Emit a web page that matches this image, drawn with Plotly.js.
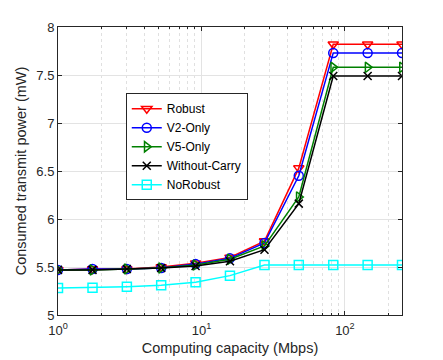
<!DOCTYPE html>
<html>
<head>
<meta charset="utf-8">
<script src="https://cdn.plot.ly/plotly-3.0.1.min.js"></script>
<style>
  html, body { margin: 0; padding: 0; background: #fff; }
  #chart { width: 443px; height: 360px; }
</style>
</head>
<body>
<div id="chart"></div>
<script>
// computing capacity (Mbps)
var capacity = [1, 1.74, 3.02, 5.24, 9.1, 15.8, 27.5, 47.7, 82.9, 144, 250];

// consumed transmit power (mW) per scheme
var robust        = [5.47, 5.48, 5.48, 5.50, 5.54, 5.60, 5.77, 6.53, 7.82, 7.82, 7.82];
var v2_only       = [5.47, 5.48, 5.48, 5.49, 5.53, 5.59, 5.75, 6.45, 7.73, 7.73, 7.73];
var v5_only       = [5.47, 5.47, 5.48, 5.49, 5.52, 5.58, 5.72, 6.23, 7.58, 7.58, 7.58];
var without_carry = [5.47, 5.47, 5.48, 5.49, 5.51, 5.56, 5.68, 6.16, 7.49, 7.49, 7.49];
var no_robust     = [5.28, 5.285, 5.295, 5.31, 5.34, 5.41, 5.52, 5.52, 5.52, 5.52, 5.52];

var names = ['Robust', 'V2-Only', 'V5-Only', 'Without-Carry', 'NoRobust'];
var series = [robust, v2_only, v5_only, without_carry, no_robust];
var colors = ['#ff0000', '#0000ff', '#008000', '#000000', '#00ffff'];
var symbols = ['triangle-down-open', 'circle-open', 'triangle-right-open', 'x-thin-open', 'square-open'];

var xTicks = [1, 10, 100];
var xTickText = ['10<sup>0</sup>', '10<sup>1</sup>', '10<sup>2</sup>'];
var xMinorTicks = [2, 3, 4, 5, 6, 7, 8, 9, 20, 30, 40, 50, 60, 70, 80, 90, 200];
var yTicks = [5, 5.5, 6, 6.5, 7, 7.5, 8];

var data = [];
for (var i = 0; i < series.length; i++) {
    data.push({
        x: capacity,
        y: series[i],
        name: names[i],
        type: 'scatter',
        mode: 'lines+markers',
        line: { color: colors[i], width: 1.5 },
        marker: {
            symbol: symbols[i],
            size: i == 3 ? 8 : 9,
            color: colors[i],
            line: { color: colors[i], width: 1.5 }
        }
    });
}

var fam = 'Liberation Sans, Arial, sans-serif';

var layout = {
    width: 443,
    height: 360,
    margin: { l: 58, r: 41, t: 27, b: 45 },
    paper_bgcolor: '#ffffff',
    plot_bgcolor: '#ffffff',
    font: { family: fam, size: 13, color: '#262626' },
    showlegend: true,
    legend: {
        x: 0.197, y: 0.77,
        xanchor: 'left', yanchor: 'top',
        bgcolor: '#ffffff',
        bordercolor: '#262626',
        borderwidth: 1,
        font: { family: fam, size: 12, color: '#000' },
        tracegroupgap: 0,
        itemwidth: 30
    },
    xaxis: {
        type: 'log',
        range: [0, Math.log10(250)],
        tickvals: xTicks,
        ticktext: xTickText,
        ticks: 'inside',
        ticklen: 4,
        tickcolor: '#262626',
        ticklabelstandoff: 3,
        showline: true,
        linecolor: '#262626',
        linewidth: 1,
        mirror: 'ticks',
        showgrid: true,
        gridcolor: '#e3e3e3',
        zeroline: false,
        minor: {
            tickvals: xMinorTicks,
            showgrid: true,
            gridcolor: '#e0e0e0',
            gridwidth: 1,
            griddash: 'dot',
            ticks: 'inside',
            ticklen: 2,
            tickcolor: '#262626'
        },
        title: { text: 'Computing capacity (Mbps)', font: { family: fam, size: 14.5, color: '#262626' }, standoff: 6 }
    },
    yaxis: {
        range: [5, 8],
        tickvals: yTicks,
        ticks: 'inside',
        ticklen: 4,
        tickcolor: '#262626',
        showline: true,
        linecolor: '#262626',
        linewidth: 1,
        mirror: 'ticks',
        showgrid: true,
        gridcolor: '#e3e3e3',
        zeroline: false,
        title: { text: 'Consumed transmit power (mW)', font: { family: fam, size: 14.5, color: '#262626' }, standoff: 6 }
    }
};

Plotly.newPlot('chart', data, layout, { staticPlot: true });
</script>
</body>
</html>
